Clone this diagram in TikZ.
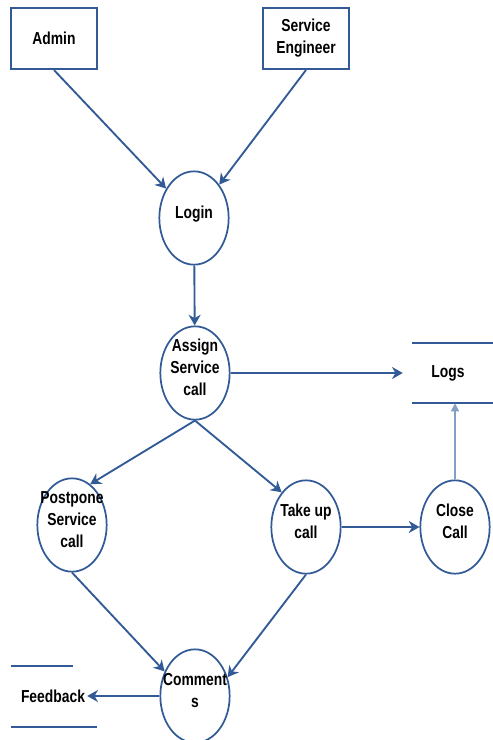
\documentclass[tikz,border=0pt]{standalone}
\usepackage{fontspec}
\setmainfont{Liberation Sans}[FakeStretch=0.8]
\usetikzlibrary{shapes.geometric,arrows.meta}
\definecolor{flowblue}{RGB}{50,90,150}
\definecolor{paleblue}{RGB}{130,160,195}
\newcommand{\celltext}[1]{\smash{\makebox[0pt]{\begin{tabular}{@{}c@{}}#1\end{tabular}}}}
\tikzset{
  entity/.style={draw=flowblue,line width=1.3pt,minimum width=64.5pt,minimum height=46pt,align=center,inner sep=2pt},
  proc/.style={ellipse,draw=flowblue,line width=1.3pt,minimum width=52pt,minimum height=70pt,inner sep=0pt},
  store/.style={inner sep=0pt,minimum width=67.5pt,minimum height=45pt},
  flow/.style={draw=flowblue,line width=1.4pt,-{Stealth[length=8pt,width=9pt,inset=2.5pt]}},
  thinflow/.style={draw=paleblue,line width=0.9pt,-{Triangle[length=6pt,width=6pt]}},
}
\begin{document}
\begin{tikzpicture}[x=0.75pt,y=0.75pt,yscale=-1,font=\fontsize{13}{16.5}\selectfont\bfseries]
\useasboundingbox (0,0) rectangle (493,740);

%Shape: Rectangle
\node [entity] (admin) at (54,38.5) {Admin};
%Shape: Rectangle
\node [entity] (seng) at (306,38.5) {Service\\Engineer};

%Shape: Ellipse
\node [proc] (login) at (194,218) {\celltext{Login}};
%Shape: Ellipse
\node [proc] (assign) at (195,373) {\celltext{Assign\\Service\\call}};
%Shape: Ellipse
\node [proc] (postpone) at (72,525) {\celltext{Postpone\\Service\\call}};
%Shape: Ellipse
\node [proc] (takeup) at (306,527) {\celltext{Take up\\call}};
%Shape: Ellipse
\node [proc] (close) at (455,527) {\celltext{Close\\Call}};
%Shape: Ellipse
\node [proc] (comments) at (195,696) {\celltext{Comment\\s}};

% Text Node
\node [store] (logs) at (448,373) {Logs};
% Text Node
\node [inner sep=1.5pt] (feedback) at (53,696) {Feedback};

%Straight Lines
\draw [flowblue,line width=1.3pt] (412,343) -- (493,343) ;
\draw [flowblue,line width=1.3pt] (412,403) -- (493,403) ;
%Straight Lines
\draw [flowblue,line width=1.3pt] (11,666) -- (73,666) ;
\draw [flowblue,line width=1.3pt] (11,727) -- (97,727) ;

%Straight Lines
\draw [flow] (admin.south) -- (login) ;
\draw [flow] (seng.south) -- (login) ;
\draw [flow] (login) -- (assign) ;
\draw [flow] (assign) -- (logs.west) ;
\draw [flow] (assign.south) -- (postpone.66) ;
\draw [flow] (assign.south) -- (takeup.125) ;
\draw [flow] (takeup) -- (close) ;
\draw [thinflow] (close) -- (close |- logs.south) ;
\draw [flow] (postpone.south) -- (comments.141) ;
\draw [flow] (takeup.south) -- (comments.30) ;
\draw [flow] (comments) -- (feedback) ;

\end{tikzpicture}
\end{document}
